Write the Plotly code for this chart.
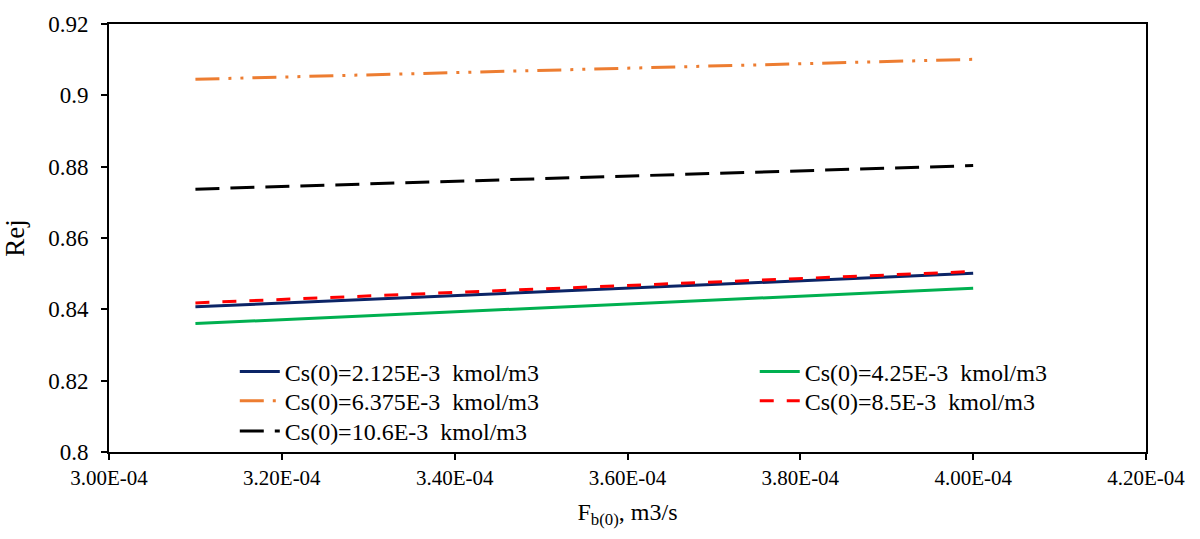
import plotly.graph_objects as go

# Data
x_vals = [3.1e-4, 4.0e-4]
rej_2125 = [0.8407, 0.8501]
rej_425 = [0.8360, 0.8459]
rej_6375 = [0.9045, 0.9101]
rej_85 = [0.8418, 0.8506]
rej_106 = [0.8737, 0.8803]

names = [
    "Cs(0)=2.125E-3\u00a0 kmol/m3",
    "Cs(0)=4.25E-3\u00a0 kmol/m3",
    "Cs(0)=6.375E-3\u00a0 kmol/m3",
    "Cs(0)=8.5E-3\u00a0 kmol/m3",
    "Cs(0)=10.6E-3\u00a0 kmol/m3",
]

x_tickvals = [3.0e-4, 3.2e-4, 3.4e-4, 3.6e-4, 3.8e-4, 4.0e-4, 4.2e-4]
x_ticktext = ["3.00E-04", "3.20E-04", "3.40E-04", "3.60E-04", "3.80E-04", "4.00E-04", "4.20E-04"]
y_tickvals = [0.8, 0.82, 0.84, 0.86, 0.88, 0.9, 0.92]
y_ticktext = ["0.8", "0.82", "0.84", "0.86", "0.88", "0.9", "0.92"]

FONT = "Liberation Serif"

fig = go.Figure()
series = [
    (rej_2125, names[0], "#0b2466", "solid", "legend"),
    (rej_425, names[1], "#00b050", "solid", "legend2"),
    (rej_6375, names[2], "#ed7d31", "24px,9px,3px,9px,3px,9px", "legend3"),
    (rej_85, names[3], "#ff0000", "14px,13px", "legend4"),
    (rej_106, names[4], "#000000", "24px,11px", "legend5"),
]
# draw order: red dashed on top of blue
order = [0, 1, 2, 4, 3]
for i in order:
    y, nm, col, dash, lg = series[i]
    fig.add_trace(go.Scatter(
        x=x_vals, y=y, mode="lines", name=nm,
        line=dict(color=col, width=3, dash=dash),
        legend=lg,
    ))

col_x = [0.1213, 0.6227]
row_y = [0.1872, 0.1187, 0.0479]
legend_pos = {
    "legend": (col_x[0], row_y[0]),
    "legend2": (col_x[1], row_y[0]),
    "legend3": (col_x[0], row_y[1]),
    "legend4": (col_x[1], row_y[1]),
    "legend5": (col_x[0], row_y[2]),
}
legend_layout = {
    k: dict(x=v[0], y=v[1], xanchor="left", yanchor="middle",
            bgcolor="rgba(0,0,0,0)", font=dict(family=FONT, size=24),
            itemwidth=40)
    for k, v in legend_pos.items()
}

fig.update_layout(
    width=1200, height=539,
    margin=dict(l=107, r=54, t=14, b=87),
    paper_bgcolor="white", plot_bgcolor="white",
    font=dict(family=FONT, size=22, color="black"),
    showlegend=True,
    **legend_layout,
)

fig.update_xaxes(
    range=[3.0e-4, 4.2e-4], tickvals=x_tickvals, ticktext=x_ticktext,
    showgrid=False, zeroline=False,
    showline=True, linecolor="black", linewidth=2, mirror=True,
    ticks="outside", ticklen=6, tickwidth=1.5, tickcolor="black",
    tickfont=dict(family=FONT, size=21),
    title=dict(text="F<sub>b(0)</sub>, m3/s", font=dict(family=FONT, size=24), standoff=14),
)
fig.update_yaxes(
    range=[0.8, 0.92], tickvals=y_tickvals, ticktext=y_ticktext,
    showgrid=False, zeroline=False,
    showline=True, linecolor="black", linewidth=2, mirror=True,
    ticks="outside", ticklen=6, tickwidth=1.5, tickcolor="black",
    ticklabelstandoff=8,
    tickfont=dict(family=FONT, size=23),
    title=dict(text="Rej", font=dict(family=FONT, size=27), standoff=17),
)

fig.write_html("out.html")
